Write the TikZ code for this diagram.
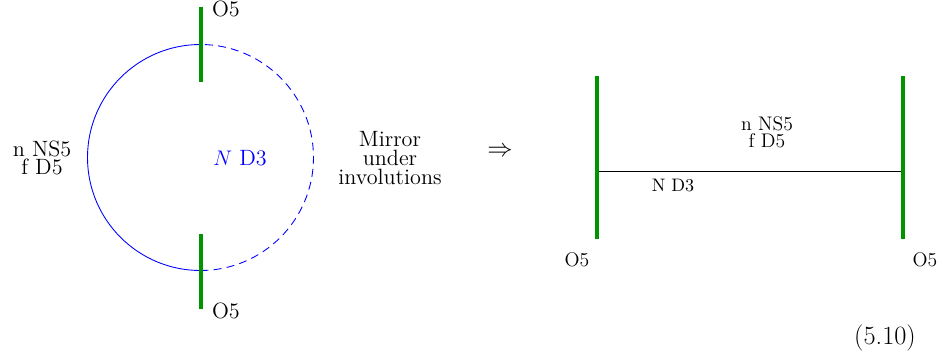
\documentclass[tikz,border=0pt]{standalone}
\usepackage{amsmath}
\usepackage{amssymb}
\usetikzlibrary{arrows.meta, positioning}

\tikzset{
    o5brane/.style={line width=2.2pt, green!58!black},
    d3loop/.style={blue, line width=0.5pt},
    lbl/.style={inner sep=1pt, align=center, font=\fontsize{12.6}{10.6}\selectfont},
    smalllbl/.style={inner sep=1pt, align=center, font=\fontsize{11.2}{9.6}\selectfont},
}

\begin{document}
\begin{tikzpicture}[>=Stealth]
\useasboundingbox (0,0) rectangle (18.9,7.16);

% 左图：闭合的 D3 圈
\begin{scope}
    % O5 平面
    \coordinate (topA) at (4.02,7.02);
    \coordinate (topB) at (4.02,5.52);
    \coordinate (botA) at (4.02,2.48);
    \coordinate (botB) at (4.02,0.98);
    \coordinate (centre) at (4.01,4.01);

    % D3 圈：左半实线，右半虚线
    \draw[d3loop] (centre) ++(90:2.26) arc[start angle=90, end angle=270, radius=2.26];
    \draw[d3loop, dash pattern=on 4.5pt off 3pt] (centre) ++(-90:2.26) arc[start angle=-90, end angle=90, radius=2.26];

    \draw[o5brane] (topA) -- (topB);
    \draw[o5brane] (botA) -- (botB);

    % 标注
    \node[lbl, anchor=west] (otop) at (4.2,6.98) {O5};
    \node[lbl, anchor=west] (obot) at (4.2,0.94) {O5};
    \node[lbl] (nsleft) at (0.84,4.0) {n NS5\\f D5};
    \node[lbl, blue] (d3left) at (4.8,4.0) {$N$ D3};
\end{scope}

% 中间文字
\node[lbl] (mirror) at (7.8,4.0) {Mirror\\under\\involutions};
\node[lbl, font=\fontsize{14}{16}\selectfont] (implies) at (10.0,4.12) {$\Rightarrow$};

% 右图：两个 O5 之间的 D3
\begin{scope}
    \coordinate (lA) at (11.94,5.64);
    \coordinate (lB) at (11.94,2.38);
    \coordinate (rA) at (18.06,5.64);
    \coordinate (rB) at (18.06,2.38);
    \coordinate (lmid) at (11.94,3.74);
    \coordinate (rmid) at (18.06,3.74);

    \draw[line width=0.5pt] (lmid) -- (rmid);
    \draw[o5brane] (lA) -- (lB);
    \draw[o5brane] (rA) -- (rB);

    % 标注
    \node[smalllbl] (nsright) at (15.34,4.52) {n NS5\\f D5};
    \node[smalllbl, font=\fontsize{10.3}{9}\selectfont] (d3right) at (13.46,3.44) {N D3};
    \node[smalllbl] (oleft) at (11.54,1.96) {O5};
    \node[smalllbl] (oright) at (18.5,1.96) {O5};
\end{scope}

\node[font=\fontsize{15}{17}\selectfont] (eqno) at (17.7,0.4) {(5.10)};

\end{tikzpicture}
\end{document}
